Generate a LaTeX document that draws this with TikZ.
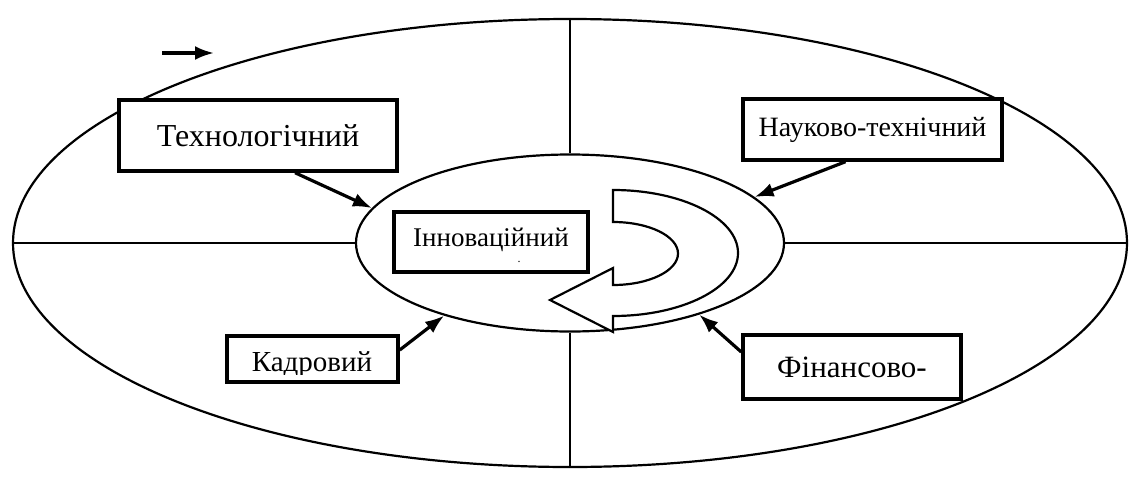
\documentclass[tikz,border=0pt]{standalone}
\usepackage{fontspec}
\setmainfont{Liberation Serif}
\newfontfamily\tnr{Liberation Serif}
\usetikzlibrary{arrows.meta,shapes.geometric}

\begin{document}
\begin{tikzpicture}[x=1pt,y=-1pt,>={Latex[length=19pt,width=14pt]},
  ring/.style={draw,ellipse,line width=2.2pt,inner sep=0pt},
  box/.style={draw,line width=3.4pt,fill=white,inner sep=0pt},
  arr/.style={->,line width=3.2pt}]
  \useasboundingbox (0,0) rectangle (1132,479);
  % ellipses
  \node[ring,minimum width=1114pt,minimum height=448pt] (outer) at (570,243) {};
  \node[ring,minimum width=428pt,minimum height=177pt] (inner) at (570,243) {};
  % cross
  \draw[line width=2.2pt] (outer.north) -- (inner.north);
  \draw[line width=2.2pt] (outer.south) -- (inner.south);
  \draw[line width=2.2pt] (outer.west) -- (inner.west);
  \draw[line width=2.2pt] (outer.east) -- (inner.east);
  % turning arrow
  \draw[line width=2.2pt,fill=white] (613,190)
    arc[start angle=270,end angle=450,x radius=125,y radius=63]
    -- (613,332) -- (550,300) -- (613,268) -- (613,285)
    arc[start angle=90,end angle=-90,x radius=65,y radius=31.5] -- cycle;
  % boxes
  \node[box,minimum width=278pt,minimum height=71pt,font=\tnr\fontsize{32}{38}\selectfont] (tech) at (258,135.5) {Технологічний};
  \node[box,minimum width=259pt,minimum height=61pt,font=\tnr\fontsize{28}{34}\selectfont] (nauk) at (872.5,129.5) {Науково-технічний};
  \node[box,minimum width=194pt,minimum height=60pt,text depth=9pt,font=\tnr\fontsize{27}{32}\selectfont] (innov) at (491,242) {Інноваційний};
  \node[font=\tnr\fontsize{12}{14}\selectfont,anchor=base,inner sep=0pt] (dot) at (519,262) {.};
  \node[box,minimum width=171pt,minimum height=46pt] (kadr) at (312.5,359) {};
  \begin{scope}
    \clip (228,337) rectangle (397,374);
    \node[font=\tnr\fontsize{29}{34}\selectfont,anchor=base,inner sep=0pt] (kadrtext) at (312,371) {Кадровий};
  \end{scope}
  \node[box,minimum width=218pt,minimum height=64pt,font=\tnr\fontsize{31}{37}\selectfont] (fin) at (852,367) {Фінансово-};
  % arrows to the core
  \draw[arr] ([xshift=37pt]tech.south) -- (inner.170);
  \draw[arr] ([xshift=-27pt]nauk.south) -- (inner.14);
  \draw[arr] ([yshift=9pt]kadr.east) -- (inner.210);
  \draw[arr] ([yshift=15pt]fin.west) -- (inner.331);
  % direction mark
  \coordinate (dirA) at (162,53);
  \coordinate (dirB) at (214,53);
  \draw[arr] (dirA) -- (dirB);
\end{tikzpicture}
\end{document}
